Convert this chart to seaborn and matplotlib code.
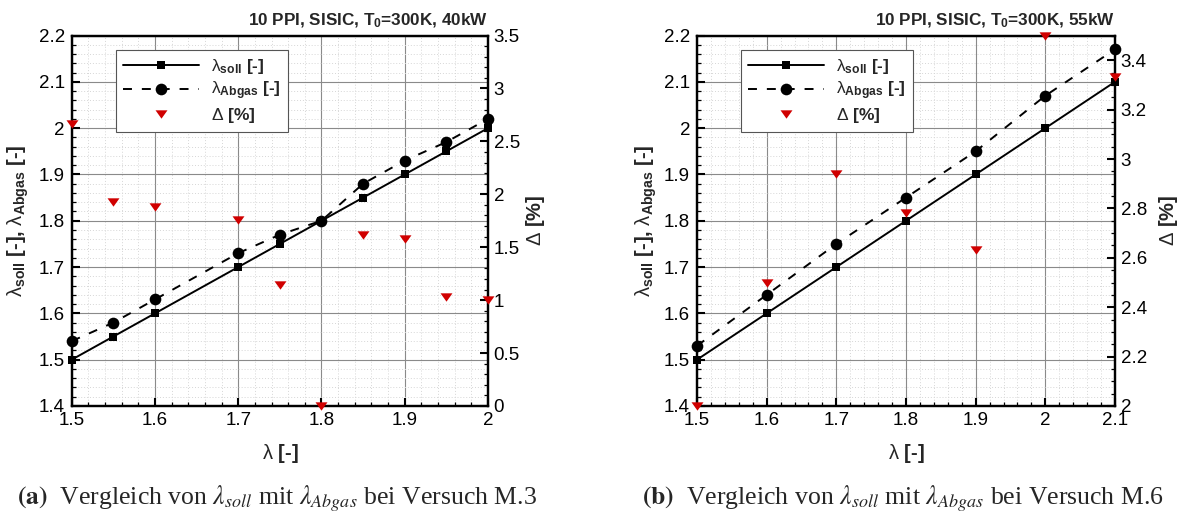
import matplotlib
matplotlib.use("Agg")
import matplotlib.pyplot as plt
import seaborn as sns
from matplotlib.ticker import MultipleLocator, FuncFormatter
from matplotlib.lines import Line2D

# ---------------- data ----------------
lam_a = [1.5, 1.55, 1.6, 1.7, 1.75, 1.8, 1.85, 1.9, 1.95, 2.0]
soll_a = [1.5, 1.55, 1.6, 1.7, 1.75, 1.8, 1.85, 1.9, 1.95, 2.0]
abgas_a = [1.54, 1.58, 1.63, 1.73, 1.77, 1.80, 1.88, 1.93, 1.97, 2.02]
delta_a = [2.66, 1.93, 1.88, 1.76, 1.14, 0.0, 1.62, 1.58, 1.03, 1.00]

lam_b = [1.5, 1.6, 1.7, 1.8, 1.9, 2.0, 2.1]
soll_b = [1.5, 1.6, 1.7, 1.8, 1.9, 2.0, 2.1]
abgas_b = [1.53, 1.64, 1.75, 1.85, 1.95, 2.07, 2.17]
delta_b = [2.0, 2.5, 2.94, 2.78, 2.63, 3.5, 3.33]

title_a = r"10 PPI, SISIC, T$_{\mathbf{0}}$=300K, 40kW"
title_b = r"10 PPI, SISIC, T$_{\mathbf{0}}$=300K, 55kW"
caption_a = r"$\mathbf{(a)}$  Vergleich von $\lambda_{soll}$ mit $\lambda_{Abgas}$ bei Versuch M.3"
caption_b = r"$\mathbf{(b)}$  Vergleich von $\lambda_{soll}$ mit $\lambda_{Abgas}$ bei Versuch M.6"
lab_soll = r"$\mathrm{\lambda}_{\mathbf{soll}}$ [-]"
lab_abgas = r"$\mathrm{\lambda}_{\mathbf{Abgas}}$ [-]"
lab_delta = r"$\mathrm{\Delta}$ [%]"
ylab_left = r"$\mathrm{\lambda}_{\mathbf{soll}}$ [-], $\mathrm{\lambda}_{\mathbf{Abgas}}$ [-]"
ylab_right = r"$\mathrm{\Delta}$ [%]"
xlab = r"$\mathrm{\lambda}$ [-]"

# ---------------- style ----------------
sns.set_theme(style="white")
plt.rcParams["font.family"] = ["Liberation Sans", "DejaVu Sans"]
plt.rcParams["mathtext.fontset"] = "custom"
plt.rcParams["mathtext.rm"] = "Liberation Sans"
plt.rcParams["mathtext.bf"] = "Liberation Sans:bold"
plt.rcParams["mathtext.it"] = "Liberation Sans:italic"
plt.rcParams["axes.edgecolor"] = "black"

RED = "#d00000"
TRI = [(-1, 0.7), (1, 0.7), (0, -0.7)]
fmt = FuncFormatter(lambda v, p: f"{v:g}")

fig = plt.figure(figsize=(11.81, 5.15), dpi=100)
W, H = 1181, 515


def panel(rect, lam, soll, abgas, delta, xmax, y2lim, y2maj, y2min, title, leg_xy,
          ylab_x, ylab2_x):
    ax = fig.add_axes(rect)
    ax.set_xlim(1.5, xmax)
    ax.set_ylim(1.4, 2.2)
    ax.xaxis.set_major_locator(MultipleLocator(0.1))
    ax.xaxis.set_minor_locator(MultipleLocator(0.02))
    ax.yaxis.set_major_locator(MultipleLocator(0.1))
    ax.yaxis.set_minor_locator(MultipleLocator(0.02))
    ax.xaxis.set_major_formatter(fmt)
    ax.yaxis.set_major_formatter(fmt)
    ax.grid(which="major", color="#8a8a8a", lw=0.8, ls="-")
    ax.grid(which="minor", color="#d6d6d6", lw=0.7, ls=(0, (1, 2)))
    ax.set_axisbelow(True)

    sns.lineplot(x=lam, y=soll, ax=ax, color="black", lw=1.4, marker="s",
                 markersize=6.3, markeredgecolor="black", markeredgewidth=0,
                 clip_on=False, estimator=None, sort=False, legend=False)
    sns.lineplot(x=lam, y=abgas, ax=ax, color="black", lw=1.4, marker="o",
                 markersize=8.4, markeredgecolor="black", markeredgewidth=0,
                 linestyle=(0, (4.6, 5.1)), clip_on=False, estimator=None,
                 sort=False, legend=False)
    for ln in ax.lines:
        ln.set_zorder(3)

    ax2 = ax.twinx()
    ax2.set_ylim(*y2lim)
    ax2.yaxis.set_major_locator(MultipleLocator(y2maj))
    ax2.yaxis.set_minor_locator(MultipleLocator(y2min))
    ax2.yaxis.set_major_formatter(fmt)
    sns.scatterplot(x=lam, y=delta, ax=ax2, color=RED, marker=TRI, s=74,
                    linewidth=0, clip_on=False, zorder=5, legend=False)

    for a in (ax, ax2):
        for sp in a.spines.values():
            sp.set_linewidth(1.6)
            sp.set_color("black")
        a.tick_params(which="major", direction="in", length=6, width=1.5,
                      labelsize=13.5, pad=4, colors="black")
        a.tick_params(which="minor", direction="in", length=3, width=0.9,
                      colors="black")
    ax.tick_params(which="both", top=False, right=False, left=True, bottom=True)
    ax2.tick_params(which="both", right=True, left=False, top=False, bottom=False)
    ax.tick_params(axis="y", pad=5)
    ax2.tick_params(axis="y", pad=4)

    ax.set_xlabel(xlab, fontsize=14.5, fontweight="bold")
    ax.xaxis.label.set_va("center")
    ax.xaxis.set_label_coords(0.5, -0.127)
    ax.set_ylabel(ylab_left, fontsize=14.5, fontweight="bold")
    ax.yaxis.label.set_va("center")
    ax.yaxis.set_label_coords(ylab_x, 0.5)
    ax2.set_ylabel(ylab_right, fontsize=14.5, fontweight="bold", rotation=90)
    ax2.yaxis.label.set_va("center")
    ax2.yaxis.set_label_coords(ylab2_x, 0.5)

    ax.text(1.0, 1.04, title, transform=ax.transAxes, ha="right", va="center",
            fontsize=12.3, fontweight="bold")

    h_soll = Line2D([], [], color="black", lw=1.4, marker="s", markersize=6.3,
                    markeredgewidth=0)
    h_abgas = Line2D([], [], color="black", lw=1.4, marker="o", markersize=8.4,
                     markeredgewidth=0, linestyle=(0, (4.6, 5.1)))
    h_delta = Line2D([], [], color=RED, lw=0, ls="none", marker=TRI,
                     markersize=8.6, markeredgewidth=0)
    leg = ax2.legend([h_soll, h_abgas, h_delta], [lab_soll, lab_abgas, lab_delta],
                     loc="upper left", bbox_to_anchor=leg_xy,
                     bbox_transform=fig.transFigure, frameon=True, fancybox=False,
                     framealpha=1, edgecolor="#555555", borderpad=0.4,
                     handlelength=4.4, handletextpad=0.7, labelspacing=0.22,
                     numpoints=1, borderaxespad=0,
                     prop={"size": 12.5, "weight": "bold"})
    leg.get_frame().set_linewidth(0.8)
    leg.set_zorder(10)
    return ax, ax2


panel([71.7 / W, 109 / H, 416.3 / W, 370.5 / H], lam_a, soll_a, abgas_a, delta_a,
      2.0, (0, 3.5), 0.5, 0.1, title_a, (116 / W, 1 - 50 / H), -0.129, 1.113)
panel([697 / W, 109 / H, 418 / W, 370.5 / H], lam_b, soll_b, abgas_b, delta_b,
      2.1, (2.0, 3.5), 0.2, 0.05, title_b, (741 / W, 1 - 50 / H), -0.122, 1.127)

fig.text(277 / W, 1 - 499 / H, caption_a, ha="center", va="center", fontsize=18.5,
         family="Liberation Serif", math_fontfamily="stix")
fig.text(903 / W, 1 - 499 / H, caption_b, ha="center", va="center", fontsize=18.5,
         family="Liberation Serif", math_fontfamily="stix")

fig.savefig("out.png", dpi=100)
